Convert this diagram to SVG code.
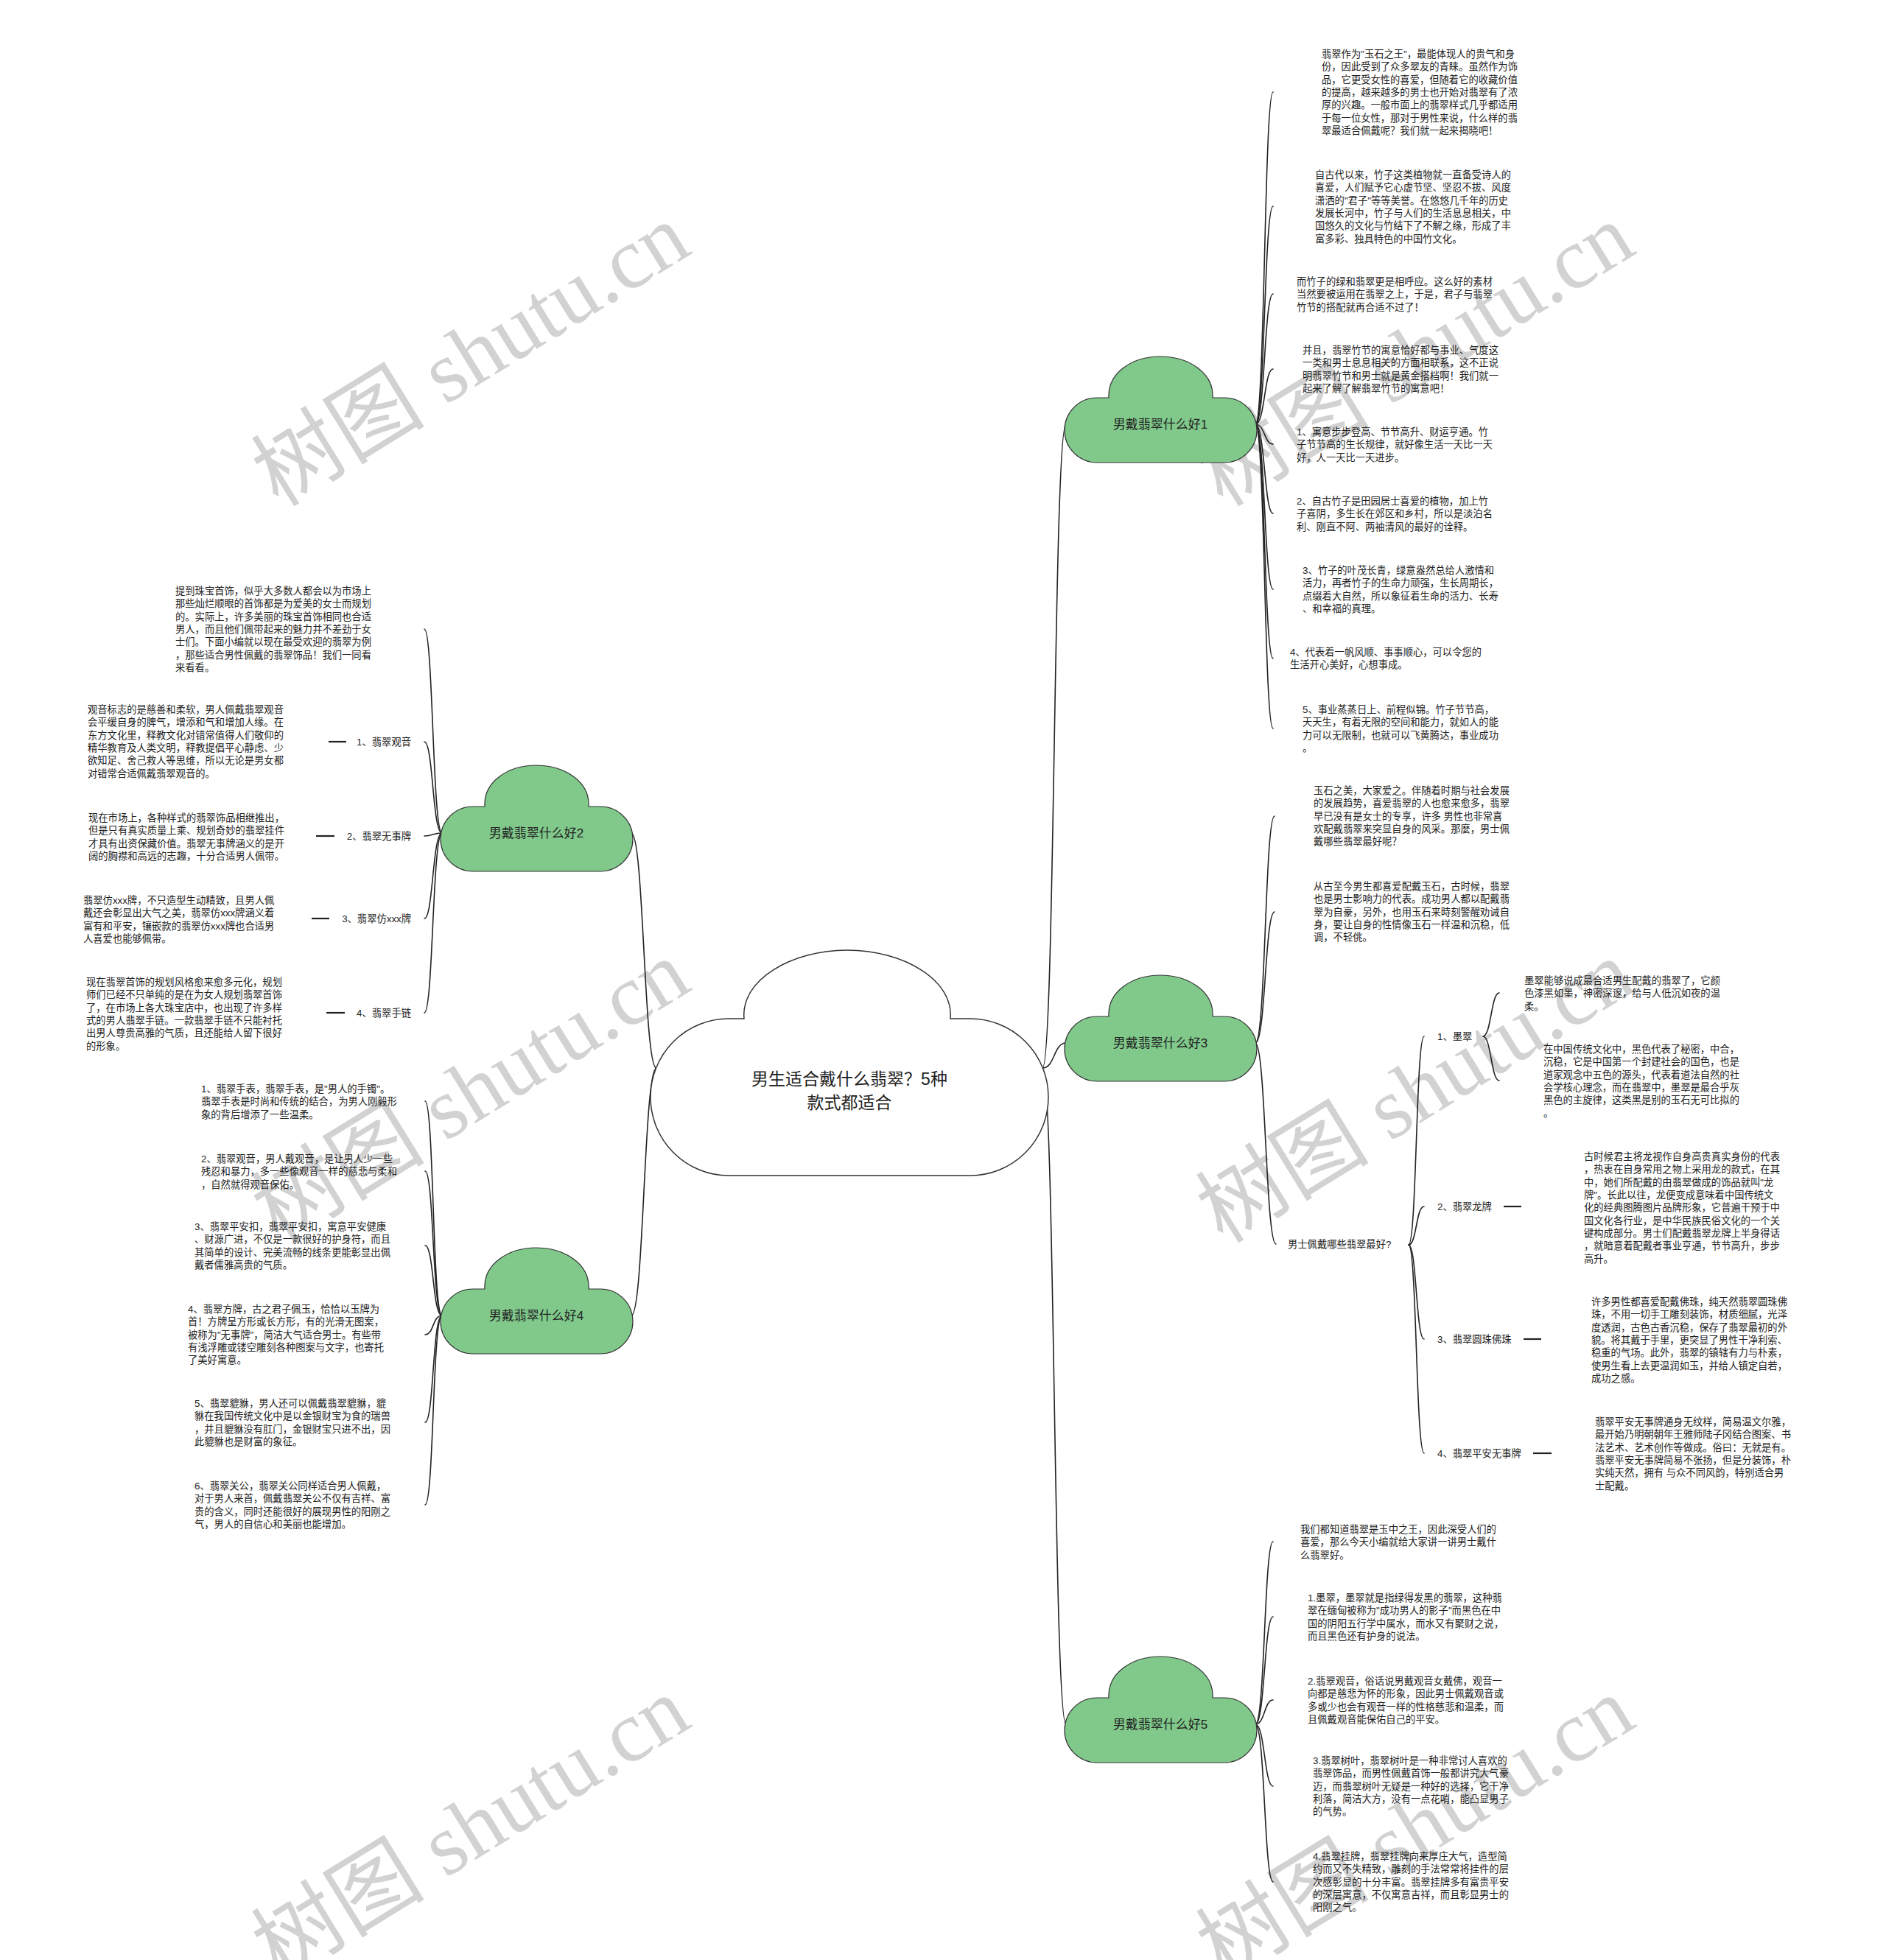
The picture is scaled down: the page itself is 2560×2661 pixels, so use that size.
<svg xmlns="http://www.w3.org/2000/svg" width="2560" height="2661" viewBox="0 0 2560 2661">
<style>
.t{font-family:"Liberation Sans","Noto Sans CJK SC",sans-serif;font-size:13.3px;fill:#222}
.lb{font-family:"Liberation Sans","Noto Sans CJK SC",sans-serif;font-size:13.3px;fill:#222}
.nt{font-family:"Liberation Sans","Noto Sans CJK SC",sans-serif;font-size:17px;fill:#222;text-anchor:middle}
.ct{font-family:"Liberation Sans","Noto Sans CJK SC",sans-serif;font-size:23px;fill:#222;text-anchor:middle}
.c{fill:none;stroke:#222;stroke-width:1.6;stroke-linecap:round}
.d{fill:none;stroke:#222;stroke-width:2.2}
.cl{fill:#80c98b;stroke:#333;stroke-width:1.2}
.cc{fill:#fff;stroke:#333;stroke-width:1.5}
.wm{font-family:"Liberation Serif","Noto Sans CJK SC",serif;font-size:118px;fill:#d2d2d2;text-anchor:middle}
</style>
<defs>
<path id="cloud" d="M44,56 H60 C58,22 92,0 130,0 C168,0 203,22 201,56 H217 A44,44 0 0 1 217,144 H44 A44,44 0 0 1 44,56 Z"/>
</defs>
<rect width="2560" height="2661" fill="#fff"/>
<g id="watermarks">
<text class="wm" transform="translate(660,516) rotate(-31.6)">树图 shutu.cn</text>
<text class="wm" transform="translate(1942,516) rotate(-31.6)">树图 shutu.cn</text>
<text class="wm" transform="translate(660,1516) rotate(-31.6)">树图 shutu.cn</text>
<text class="wm" transform="translate(1942,1516) rotate(-31.6)">树图 shutu.cn</text>
<text class="wm" transform="translate(660,2516) rotate(-31.6)">树图 shutu.cn</text>
<text class="wm" transform="translate(1942,2516) rotate(-31.6)">树图 shutu.cn</text>
</g>
<g id="connectors">
<path class="c" d="M1415,1450 C1432,1450 1430,576 1447,576"/>
<path class="c" d="M1415,1450 C1432,1450 1430,1416 1447,1416"/>
<path class="c" d="M1415,1450 C1432,1450 1430,2341 1447,2341"/>
<path class="c" d="M891,1450 C874,1450 874,1131 857,1131"/>
<path class="c" d="M891,1450 C874,1450 874,1786 857,1786"/>
<path class="c" d="M1704,576 C1717,576 1716,125 1728,125"/>
<path class="c" d="M1704,576 C1717,576 1716,280 1728,280"/>
<path class="c" d="M1704,576 C1717,576 1716,399 1728,399"/>
<path class="c" d="M1704,576 C1717,576 1716,501 1728,501"/>
<path class="c" d="M1704,576 C1717,576 1716,603 1728,603"/>
<path class="c" d="M1704,576 C1717,576 1716,697 1728,697"/>
<path class="c" d="M1704,576 C1717,576 1716,800 1728,800"/>
<path class="c" d="M1704,576 C1717,576 1716,894 1728,894"/>
<path class="c" d="M1704,576 C1717,576 1716,989 1728,989"/>
<path class="c" d="M1704,1416 C1718,1416 1717,1108 1730,1108"/>
<path class="c" d="M1704,1416 C1718,1416 1717,1238 1730,1238"/>
<path class="c" d="M1704,1416 C1718,1416 1718,1689 1732,1689"/>
<path class="c" d="M1912,1690 C1923,1690 1922,1407 1933,1407"/>
<path class="c" d="M1912,1690 C1923,1690 1922,1638 1933,1638"/>
<path class="c" d="M1912,1690 C1923,1690 1922,1818 1933,1818"/>
<path class="c" d="M1912,1690 C1923,1690 1922,1973 1933,1973"/>
<path class="c" d="M2013,1407 C2024,1407 2024,1348 2035,1348"/>
<path class="c" d="M2013,1407 C2024,1407 2024,1467 2035,1467"/>
<path class="d" d="M2041,1638 H2065"/>
<path class="d" d="M2068,1818 H2092"/>
<path class="d" d="M2081,1973 H2106"/>
<path class="c" d="M1704,2341 C1717,2341 1716,2093 1728,2093"/>
<path class="c" d="M1704,2341 C1717,2341 1716,2195 1728,2195"/>
<path class="c" d="M1704,2341 C1717,2341 1716,2308 1728,2308"/>
<path class="c" d="M1704,2341 C1717,2341 1716,2425 1728,2425"/>
<path class="c" d="M1704,2341 C1717,2341 1716,2555 1728,2555"/>
<path class="c" d="M600,1131 C587,1131 588,854 576,854"/>
<path class="c" d="M600,1131 C587,1131 588,1007 576,1007"/>
<path class="c" d="M600,1131 C587,1131 588,1135 576,1135"/>
<path class="c" d="M600,1131 C587,1131 588,1247 576,1247"/>
<path class="c" d="M600,1131 C587,1131 588,1375 576,1375"/>
<path class="d" d="M446,1007 H470"/>
<path class="d" d="M429,1135 H454"/>
<path class="d" d="M423,1247 H447"/>
<path class="d" d="M443,1375 H468"/>
<path class="c" d="M600,1786 C587,1786 589,1495 577,1495"/>
<path class="c" d="M600,1786 C587,1786 589,1590 577,1590"/>
<path class="c" d="M600,1786 C587,1786 589,1691 577,1691"/>
<path class="c" d="M600,1786 C587,1786 589,1812 577,1812"/>
<path class="c" d="M600,1786 C587,1786 589,1931 577,1931"/>
<path class="c" d="M600,1786 C587,1786 589,2043 577,2043"/>
</g>
<g id="root">
<path class="cc" d="M989,1383 H1010 C1005,1330 1075,1290 1150,1290 C1225,1290 1295,1330 1290,1383 H1317 A106,106.5 0 0 1 1317,1596 H989 A106,106.5 0 0 1 989,1383 Z"/>
<text class="ct" x="1153" y="1473">男生适合戴什么翡翠？5种</text>
<text class="ct" x="1153" y="1505">款式都适合</text>
</g>
<g id="n1"><use href="#cloud" class="cl" x="1445" y="484"/><text class="nt" x="1575" y="582">男戴翡翠什么好1</text></g>
<g id="n3"><use href="#cloud" class="cl" x="1445" y="1324"/><text class="nt" x="1575" y="1422">男戴翡翠什么好3</text></g>
<g id="n5"><use href="#cloud" class="cl" x="1445" y="2249"/><text class="nt" x="1575" y="2347">男戴翡翠什么好5</text></g>
<g id="n2"><use href="#cloud" class="cl" x="598" y="1039"/><text class="nt" x="728" y="1137">男戴翡翠什么好2</text></g>
<g id="n4"><use href="#cloud" class="cl" x="598" y="1694"/><text class="nt" x="728" y="1792">男戴翡翠什么好4</text></g>

<g id="p1-1"><text class="t" x="1794" y="78"><tspan x="1794">翡翠作为"玉石之王"，最能体现人的贵气和身</tspan><tspan x="1794" dy="17.33">份，因此受到了众多翠友的青睐。虽然作为饰</tspan><tspan x="1794" dy="17.33">品，它更受女性的喜爱，但随着它的收藏价值</tspan><tspan x="1794" dy="17.33">的提高，越来越多的男士也开始对翡翠有了浓</tspan><tspan x="1794" dy="17.33">厚的兴趣。一般市面上的翡翠样式几乎都适用</tspan><tspan x="1794" dy="17.33">于每一位女性，那对于男性来说，什么样的翡</tspan><tspan x="1794" dy="17.33">翠最适合佩戴呢？我们就一起来揭晓吧！</tspan></text></g>
<g id="p1-2"><text class="t" x="1785" y="242"><tspan x="1785">自古代以来，竹子这类植物就一直备受诗人的</tspan><tspan x="1785" dy="17.33">喜爱，人们赋予它心虚节坚、坚忍不拔、风度</tspan><tspan x="1785" dy="17.33">潇洒的"君子"等等美誉。在悠悠几千年的历史</tspan><tspan x="1785" dy="17.33">发展长河中，竹子与人们的生活息息相关，中</tspan><tspan x="1785" dy="17.33">国悠久的文化与竹结下了不解之缘，形成了丰</tspan><tspan x="1785" dy="17.33">富多彩、独具特色的中国竹文化。</tspan></text></g>
<g id="p1-3"><text class="t" x="1760" y="387"><tspan x="1760">而竹子的绿和翡翠更是相呼应。这么好的素材</tspan><tspan x="1760" dy="17.33">当然要被运用在翡翠之上，于是，君子与翡翠</tspan><tspan x="1760" dy="17.33">竹节的搭配就再合适不过了！</tspan></text></g>
<g id="p1-4"><text class="t" x="1768" y="480"><tspan x="1768">并且，翡翠竹节的寓意恰好都与事业、气度这</tspan><tspan x="1768" dy="17.33">一类和男士息息相关的方面相联系，这不正说</tspan><tspan x="1768" dy="17.33">明翡翠竹节和男士就是黄金搭档啊！我们就一</tspan><tspan x="1768" dy="17.33">起来了解了解翡翠竹节的寓意吧！</tspan></text></g>
<g id="p1-5"><text class="t" x="1760" y="591"><tspan x="1760">1、寓意步步登高、节节高升、财运亨通。竹</tspan><tspan x="1760" dy="17.33">子节节高的生长规律，就好像生活一天比一天</tspan><tspan x="1760" dy="17.33">好，人一天比一天进步。</tspan></text></g>
<g id="p1-6"><text class="t" x="1760" y="685"><tspan x="1760">2、自古竹子是田园居士喜爱的植物，加上竹</tspan><tspan x="1760" dy="17.33">子喜阴，多生长在郊区和乡村，所以是淡泊名</tspan><tspan x="1760" dy="17.33">利、刚直不阿、两袖清风的最好的诠释。</tspan></text></g>
<g id="p1-7"><text class="t" x="1768" y="779"><tspan x="1768">3、竹子的叶茂长青，绿意盎然总给人激情和</tspan><tspan x="1768" dy="17.33">活力，再者竹子的生命力顽强，生长周期长，</tspan><tspan x="1768" dy="17.33">点缀着大自然，所以象征着生命的活力、长寿</tspan><tspan x="1768" dy="17.33">、和幸福的真理。</tspan></text></g>
<g id="p1-8"><text class="t" x="1751" y="890"><tspan x="1751">4、代表着一帆风顺、事事顺心，可以令您的</tspan><tspan x="1751" dy="17.33">生活开心美好，心想事成。</tspan></text></g>
<g id="p1-9"><text class="t" x="1768" y="968"><tspan x="1768">5、事业蒸蒸日上、前程似锦。竹子节节高，</tspan><tspan x="1768" dy="17.33">天天生，有着无限的空间和能力，就如人的能</tspan><tspan x="1768" dy="17.33">力可以无限制，也就可以飞黄腾达，事业成功</tspan><tspan x="1768" dy="17.33">。</tspan></text></g>

<g id="p3-1"><text class="t" x="1783" y="1078"><tspan x="1783">玉石之美，大家爱之。伴随着时期与社会发展</tspan><tspan x="1783" dy="17.33">的发展趋势，喜爱翡翠的人也愈来愈多，翡翠</tspan><tspan x="1783" dy="17.33">早已没有是女士的专享，许多 男性也非常喜</tspan><tspan x="1783" dy="17.33">欢配戴翡翠来突显自身的风采。那麼，男士佩</tspan><tspan x="1783" dy="17.33">戴哪些翡翠最好呢？</tspan></text></g>
<g id="p3-2"><text class="t" x="1783" y="1208"><tspan x="1783">从古至今男生都喜爱配戴玉石，古时候，翡翠</tspan><tspan x="1783" dy="17.33">也是男士影响力的代表。成功男人都以配戴翡</tspan><tspan x="1783" dy="17.33">翠为自豪，另外，也用玉石来時刻警醒劝诫自</tspan><tspan x="1783" dy="17.33">身，要让自身的性情像玉石一样温和沉稳，低</tspan><tspan x="1783" dy="17.33">调，不轻佻。</tspan></text></g>
<g id="p3-q"><text class="lb" x="1748" y="1694">男士佩戴哪些翡翠最好?</text></g>
<g id="p3-a"><text class="lb" x="1951" y="1412">1、墨翠</text></g>
<g id="p3-b"><text class="lb" x="1951" y="1643">2、翡翠龙牌</text></g>
<g id="p3-c"><text class="lb" x="1951" y="1823">3、翡翠圆珠佛珠</text></g>
<g id="p3-d"><text class="lb" x="1951" y="1978">4、翡翠平安无事牌</text></g>
<g id="p3-a1"><text class="t" x="2069" y="1336"><tspan x="2069">墨翠能够说成最合适男生配戴的翡翠了，它颜</tspan><tspan x="2069" dy="17.33">色漆黑如墨，神密深邃，给与人低沉如夜的温</tspan><tspan x="2069" dy="17.33">柔。</tspan></text></g>
<g id="p3-a2"><text class="t" x="2095" y="1429"><tspan x="2095">在中国传统文化中，黑色代表了秘密，中合，</tspan><tspan x="2095" dy="17.33">沉稳，它是中国第一个封建社会的国色，也是</tspan><tspan x="2095" dy="17.33">道家观念中五色的源头，代表着道法自然的社</tspan><tspan x="2095" dy="17.33">会学核心理念，而在翡翠中，墨翠是最合乎灰</tspan><tspan x="2095" dy="17.33">黑色的主旋律，这类黑是别的玉石无可比拟的</tspan><tspan x="2095" dy="17.33">。</tspan></text></g>
<g id="p3-b1"><text class="t" x="2150" y="1575"><tspan x="2150">古时候君主将龙视作自身高贵真实身份的代表</tspan><tspan x="2150" dy="17.33">，热衷在自身常用之物上采用龙的款式，在其</tspan><tspan x="2150" dy="17.33">中，她们所配戴的由翡翠做成的饰品就叫"龙</tspan><tspan x="2150" dy="17.33">牌"。长此以往，龙便变成意味着中国传统文</tspan><tspan x="2150" dy="17.33">化的经典图腾图片品牌形象，它普遍干预于中</tspan><tspan x="2150" dy="17.33">国文化各行业，是中华民族民俗文化的一个关</tspan><tspan x="2150" dy="17.33">键构成部分。男士们配戴翡翠龙牌上半身得话</tspan><tspan x="2150" dy="17.33">，就暗意着配戴者事业亨通，节节高升，步步</tspan><tspan x="2150" dy="17.33">高升。</tspan></text></g>
<g id="p3-c1"><text class="t" x="2160" y="1772"><tspan x="2160">许多男性都喜爱配戴佛珠，纯天然翡翠圆珠佛</tspan><tspan x="2160" dy="17.33">珠，不用一切手工雕刻装饰，材质细腻，光泽</tspan><tspan x="2160" dy="17.33">度透润，古色古香沉稳，保存了翡翠最初的外</tspan><tspan x="2160" dy="17.33">貌。将其戴于手里，更突显了男性干净利索、</tspan><tspan x="2160" dy="17.33">稳重的气场。此外，翡翠的镇辖有力与朴素，</tspan><tspan x="2160" dy="17.33">使男生看上去更温润如玉，并给人镇定自若，</tspan><tspan x="2160" dy="17.33">成功之感。</tspan></text></g>
<g id="p3-d1"><text class="t" x="2165" y="1935"><tspan x="2165">翡翠平安无事牌通身无纹样，简易温文尔雅，</tspan><tspan x="2165" dy="17.33">最开始乃明朝朝年王雅师陆子冈结合图案、书</tspan><tspan x="2165" dy="17.33">法艺术、艺术创作等做成。俗曰：无就是有。</tspan><tspan x="2165" dy="17.33">翡翠平安无事牌简易不张扬，但是分装饰，朴</tspan><tspan x="2165" dy="17.33">实纯天然，拥有 与众不同风韵，特别适合男</tspan><tspan x="2165" dy="17.33">士配戴。</tspan></text></g>

<g id="p5-1"><text class="t" x="1765" y="2081"><tspan x="1765">我们都知道翡翠是玉中之王，因此深受人们的</tspan><tspan x="1765" dy="17.33">喜爱，那么今天小编就给大家讲一讲男士戴什</tspan><tspan x="1765" dy="17.33">么翡翠好。</tspan></text></g>
<g id="p5-2"><text class="t" x="1775" y="2174"><tspan x="1775">1.墨翠，墨翠就是指绿得发黑的翡翠，这种翡</tspan><tspan x="1775" dy="17.33">翠在缅甸被称为"成功男人的影子"而黑色在中</tspan><tspan x="1775" dy="17.33">国的阴阳五行学中属水，而水又有聚财之说，</tspan><tspan x="1775" dy="17.33">而且黑色还有护身的说法。</tspan></text></g>
<g id="p5-3"><text class="t" x="1775" y="2287"><tspan x="1775">2.翡翠观音，俗话说男戴观音女戴佛，观音一</tspan><tspan x="1775" dy="17.33">向都是慈悲为怀的形象，因此男士佩戴观音或</tspan><tspan x="1775" dy="17.33">多或少也会有观音一样的性格慈悲和温柔，而</tspan><tspan x="1775" dy="17.33">且佩戴观音能保佑自己的平安。</tspan></text></g>
<g id="p5-4"><text class="t" x="1782" y="2395"><tspan x="1782">3.翡翠树叶，翡翠树叶是一种非常讨人喜欢的</tspan><tspan x="1782" dy="17.33">翡翠饰品，而男性佩戴首饰一般都讲究大气豪</tspan><tspan x="1782" dy="17.33">迈，而翡翠树叶无疑是一种好的选择，它干净</tspan><tspan x="1782" dy="17.33">利落，简洁大方，没有一点花哨，能凸显男子</tspan><tspan x="1782" dy="17.33">的气势。</tspan></text></g>
<g id="p5-5"><text class="t" x="1782" y="2525"><tspan x="1782">4.翡翠挂牌，翡翠挂牌向来厚庄大气，造型简</tspan><tspan x="1782" dy="17.33">约而又不失精致，雕刻的手法常常将挂件的层</tspan><tspan x="1782" dy="17.33">次感彰显的十分丰富。翡翠挂牌多有富贵平安</tspan><tspan x="1782" dy="17.33">的深层寓意，不仅寓意吉祥，而且彰显男士的</tspan><tspan x="1782" dy="17.33">阳刚之气。</tspan></text></g>

<g id="p2-1"><text class="t" x="238" y="807"><tspan x="238">提到珠宝首饰，似乎大多数人都会以为市场上</tspan><tspan x="238" dy="17.33">那些灿烂顺眼的首饰都是为爱美的女士而规划</tspan><tspan x="238" dy="17.33">的。实际上，许多美丽的珠宝首饰相同也合适</tspan><tspan x="238" dy="17.33">男人，而且他们佩带起来的魅力并不差劲于女</tspan><tspan x="238" dy="17.33">士们。下面小编就以现在最受欢迎的翡翠为例</tspan><tspan x="238" dy="17.33">，那些适合男性佩戴的翡翠饰品！我们一同看</tspan><tspan x="238" dy="17.33">来看看。</tspan></text></g>
<g id="p2-a"><text class="lb" x="558" y="1012" text-anchor="end">1、翡翠观音</text></g>
<g id="p2-b"><text class="lb" x="558" y="1140" text-anchor="end">2、翡翠无事牌</text></g>
<g id="p2-c"><text class="lb" x="558" y="1252" text-anchor="end">3、翡翠仿xxx牌</text></g>
<g id="p2-d"><text class="lb" x="558" y="1380" text-anchor="end">4、翡翠手链</text></g>
<g id="p2-a1"><text class="t" x="119" y="968"><tspan x="119">观音标志的是慈善和柔软，男人佩戴翡翠观音</tspan><tspan x="119" dy="17.33">会平缓自身的脾气，增添和气和增加人缘。在</tspan><tspan x="119" dy="17.33">东方文化里，释教文化对错常值得人们敬仰的</tspan><tspan x="119" dy="17.33">精华教育及人类文明，释教提倡平心静虑、少</tspan><tspan x="119" dy="17.33">欲知足、舍己救人等思维，所以无论是男女都</tspan><tspan x="119" dy="17.33">对错常合适佩戴翡翠观音的。</tspan></text></g>
<g id="p2-b1"><text class="t" x="120" y="1115"><tspan x="120">现在市场上，各种样式的翡翠饰品相继推出，</tspan><tspan x="120" dy="17.33">但是只有真实质量上乘、规划奇妙的翡翠挂件</tspan><tspan x="120" dy="17.33">才具有出资保藏价值。翡翠无事牌涵义的是开</tspan><tspan x="120" dy="17.33">阔的胸襟和高远的志趣，十分合适男人佩带。</tspan></text></g>
<g id="p2-c1"><text class="t" x="113" y="1227"><tspan x="113">翡翠仿xxx牌，不只造型生动精致，且男人佩</tspan><tspan x="113" dy="17.33">戴还会彰显出大气之美，翡翠仿xxx牌涵义着</tspan><tspan x="113" dy="17.33">富有和平安，镶嵌款的翡翠仿xxx牌也合适男</tspan><tspan x="113" dy="17.33">人喜爱也能够佩带。</tspan></text></g>
<g id="p2-d1"><text class="t" x="117" y="1338"><tspan x="117">现在翡翠首饰的规划风格愈来愈多元化，规划</tspan><tspan x="117" dy="17.33">师们已经不只单纯的是在为女人规划翡翠首饰</tspan><tspan x="117" dy="17.33">了，在市场上各大珠宝店中，也出现了许多样</tspan><tspan x="117" dy="17.33">式的男人翡翠手链。一款翡翠手链不只能衬托</tspan><tspan x="117" dy="17.33">出男人尊贵高雅的气质，且还能给人留下很好</tspan><tspan x="117" dy="17.33">的形象。</tspan></text></g>

<g id="p4-1"><text class="t" x="273" y="1483"><tspan x="273">1、翡翠手表，翡翠手表，是"男人的手镯"。</tspan><tspan x="273" dy="17.33">翡翠手表是时尚和传统的结合，为男人刚毅形</tspan><tspan x="273" dy="17.33">象的背后增添了一些温柔。</tspan></text></g>
<g id="p4-2"><text class="t" x="273" y="1578"><tspan x="273">2、翡翠观音，男人戴观音，是让男人少一些</tspan><tspan x="273" dy="17.33">残忍和暴力，多一些像观音一样的慈悲与柔和</tspan><tspan x="273" dy="17.33">，自然就得观音保佑。</tspan></text></g>
<g id="p4-3"><text class="t" x="264" y="1670"><tspan x="264">3、翡翠平安扣，翡翠平安扣，寓意平安健康</tspan><tspan x="264" dy="17.33">、财源广进，不仅是一款很好的护身符，而且</tspan><tspan x="264" dy="17.33">其简单的设计、完美流畅的线条更能彰显出佩</tspan><tspan x="264" dy="17.33">戴者儒雅高贵的气质。</tspan></text></g>
<g id="p4-4"><text class="t" x="255" y="1782"><tspan x="255">4、翡翠方牌，古之君子佩玉，恰恰以玉牌为</tspan><tspan x="255" dy="17.33">首！方牌呈方形或长方形，有的光滑无图案，</tspan><tspan x="255" dy="17.33">被称为"无事牌"，简洁大气适合男士。有些带</tspan><tspan x="255" dy="17.33">有浅浮雕或镂空雕刻各种图案与文字，也寄托</tspan><tspan x="255" dy="17.33">了美好寓意。</tspan></text></g>
<g id="p4-5"><text class="t" x="264" y="1910"><tspan x="264">5、翡翠貔貅，男人还可以佩戴翡翠貔貅，貔</tspan><tspan x="264" dy="17.33">貅在我国传统文化中是以金银财宝为食的瑞兽</tspan><tspan x="264" dy="17.33">，并且貔貅没有肛门，金银财宝只进不出，因</tspan><tspan x="264" dy="17.33">此貔貅也是财富的象征。</tspan></text></g>
<g id="p4-6"><text class="t" x="264" y="2022"><tspan x="264">6、翡翠关公，翡翠关公同样适合男人佩戴，</tspan><tspan x="264" dy="17.33">对于男人来首，佩戴翡翠关公不仅有吉祥、富</tspan><tspan x="264" dy="17.33">贵的含义，同时还能很好的展现男性的阳刚之</tspan><tspan x="264" dy="17.33">气，男人的自信心和美丽也能增加。</tspan></text></g>
</svg>
